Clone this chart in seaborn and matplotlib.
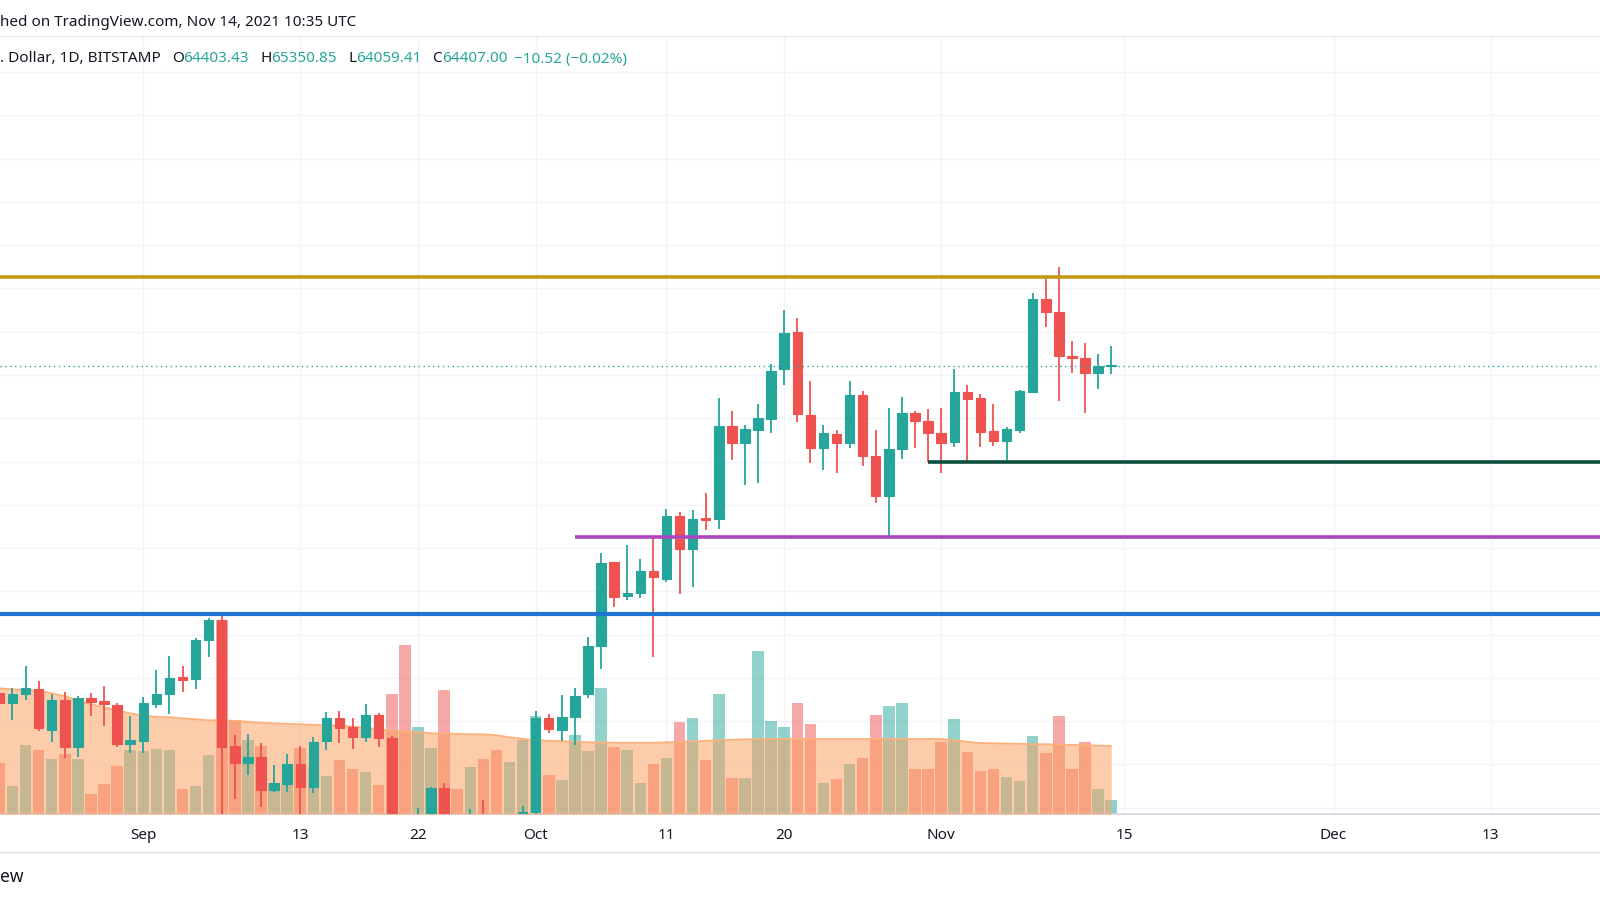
import numpy as np
import pandas as pd
import matplotlib
matplotlib.use("Agg")
import matplotlib.pyplot as plt
from matplotlib.lines import Line2D
import seaborn as sns

# BTC/USD daily, Bitstamp
start = "2021-08-21"
opens = [49296, 48833, 49249, 49481, 47585, 48972, 46799, 49064, 48926, 48741, 46937,
         47076, 48787, 49249, 50036, 49943, 51746, 52671, 46845, 46059, 46336, 44810,
         45088, 46013, 44949, 47076, 48140, 47724, 47261, 48278, 47215, 43000, 40700,
         43600, 44900, 42800, 42700, 43200, 42200, 41050, 41550,
         43790, 48140, 47585, 48186, 49249, 51469, 55353, 53781, 53920, 54937, 54567,
         57480, 55954, 57388, 57341, 61642, 60856, 61457, 61965, 64277, 65988, 62150,
         60624, 61272, 60856, 63075, 60255, 58405, 60578, 62243, 61873,
         61318, 60902, 63214, 62936, 61411, 60948, 61457, 63214, 67514, 66913, 64879,
         64786, 64092, 64403.43]
highs = [49750, 49527, 50544, 49851, 49249, 49342, 49157, 49296, 49619, 48833, 48232,
         49111, 50359, 51007, 50544, 51839, 52764, 52902, 47354, 47400, 46984, 45966,
         46475, 46845, 47261, 48417, 48463, 48140, 48787, 48371, 47307, 43600, 43980,
         44963, 45148, 42950, 43930, 44350, 42800, 42600, 44090,
         48463, 48325, 49203, 49527, 51885, 55769, 55353, 56139, 55492, 56509, 57804,
         57665, 57758, 58544, 62936, 62335, 61688, 62659, 64509, 67006, 66636, 63723,
         61688, 61457, 63723, 63260, 61457, 62474, 62983, 62335, 62428,
         62474, 64277, 63538, 63121, 62659, 61595, 63306, 67792, 68532, 68990, 65572,
         65480, 64971, 65350.85]
lows = [48450, 48047, 48972, 47539, 47030, 46290, 46336, 48232, 47770, 46799, 46521,
        46521, 48602, 48325, 49342, 49481, 50960, 42830, 44394, 45504, 44024, 44718,
        44718, 43423, 44672, 46660, 46984, 46706, 47030, 46799, 42500, 39600, 40500,
        43100, 40700, 41700, 40800, 42100, 40900, 40800, 41400,
        43300, 47446, 47076, 46891, 49064, 50405, 53272, 53596, 53688, 50960, 54428,
        53873, 54197, 56833, 56879, 60070, 58914, 59006, 61318, 63538, 61827, 59931,
        59607, 59468, 60624, 59792, 58081, 56463, 60116, 60624, 59977,
        59468, 60671, 60023, 60671, 60717, 60070, 61318, 63214, 66220, 62798, 64092,
        62243, 63353, 64059.41]
closes = [48833, 49249, 49527, 47677, 48972, 46799, 49064, 48880, 48787, 46937, 47122,
          48833, 49249, 49989, 49897, 51746, 52671, 46799, 46059, 46336, 44810, 45134,
          46013, 44949, 47030, 48140, 47677, 47261, 48278, 47215, 43000, 40700, 43600,
          44903, 42800, 42700, 43200, 42200, 41050, 41550, 43790,
          48140, 47631, 48186, 49157, 51469, 55307, 53735, 53920, 54937, 54660, 57480,
          55954, 57341, 57295, 61642, 60856, 61503, 62012, 64185, 65942, 62197, 60624,
          61318, 60856, 63075, 60255, 58405, 60578, 62243, 61873, 61318,
          60856, 63214, 62890, 61364, 60948, 61503, 63260, 67514, 66913, 64879, 64786,
          64092, 64417.52, 64407.00]
# volume (BTC) and its 20-day average
volumes = [2565, 1415, 3450, 3200, 2750, 3000, 2785, 1035, 1535, 2415, 3235,
           3165, 3250, 3200, 1250, 1415, 2950, 9700, 4725, 3735, 3425, 1550,
           1485, 3335, 2400, 1900, 2700, 2250, 2115, 1450, 6035, 8485, 4350,
           3335, 6200, 1285, 2365, 2785, 3235, 2615, 3735,
           4925, 1985, 1700, 3950, 3165, 6335, 3365, 3200, 1550, 2535, 2835,
           4615, 4835, 2715, 6000, 1835, 1835, 8185, 4650, 4365, 5565, 4500,
           1550, 1750, 2500, 2835, 4950, 5400, 5550, 2250, 2250,
           3615, 4750, 3100, 2185, 2285, 1850, 1650, 3900, 3065, 4900, 2285,
           3600, 1250, 700]
vol_ma = [6300, 6250, 6225, 6175, 6050, 5900, 5700, 5500, 5350, 5200, 5050,
          4925, 4875, 4850, 4800, 4750, 4700, 4700, 4675, 4625, 4575, 4550,
          4525, 4500, 4475, 4450, 4440, 4375, 4325, 4250, 4175, 4125, 4100,
          4050, 4025, 4025, 4000, 4000, 3950, 3850, 3775,
          3700, 3675, 3650, 3625, 3600, 3600, 3575, 3575, 3575, 3575, 3600,
          3625, 3650, 3675, 3700, 3725, 3750, 3750, 3765, 3765, 3765, 3765,
          3765, 3765, 3765, 3765, 3765, 3765, 3765, 3765, 3765,
          3765, 3700, 3625, 3565, 3550, 3535, 3525, 3510, 3500, 3490, 3470,
          3450, 3435, 3415]

tick_dates = ["2021-09-01", "2021-09-13", "2021-09-22", "2021-10-01", "2021-10-11",
              "2021-10-20", "2021-11-01", "2021-11-15", "2021-12-01", "2021-12-13"]
tick_labels = ["Sep", "13", "22", "Oct", "11", "20", "Nov", "15", "Dec", "13"]

level_gold = 68545
level_blue = 52935
level_purple = 56523
purple_from = "2021-10-04"
level_green = 60000
green_from = "2021-10-31"
grid_prices = np.arange(44000, 80000, 2000)

UP, DOWN, DARK = "#26a69a", "#ef5350", "#131722"

sns.set_style("white")
plt.rcParams["font.family"] = ["Noto Sans", "DejaVu Sans"]

W, H = 1600, 900
fig = plt.figure(figsize=(16, 9), dpi=100)
pane_top, pane_bot = 36, 814.3
ax_v = fig.add_axes([0, 1 - pane_bot / H, 1, (pane_bot - pane_top) / H])
ax_p = ax_v.twinx()

t0 = pd.Timestamp(start)
dates = pd.date_range(start, periods=len(closes), freq="D")
day = (dates - t0).days.values
o, h, l, c = map(np.asarray, (opens, highs, lows, closes))
up = c >= o
cols = np.where(up, UP, DOWN)

px_day, first_px = 13.08, -0.6
xlim = ((0 - first_px) / px_day, (W - first_px) / px_day)
plim = (43687, 79675)
vlim = (0, (pane_bot - pane_top) * 50)

# volume + average
df = pd.DataFrame({"day": day, "vol": volumes, "dir": np.where(up, "up", "down")})
sns.barplot(data=df, x="day", y="vol", hue="dir", palette={"up": UP, "down": DOWN},
            native_scale=True, dodge=False, width=0.88, saturation=1, alpha=0.5,
            linewidth=0, errorbar=None, legend=False, ax=ax_v, zorder=2)
ax_v.fill_between(day, vol_ma, color="#fc9d59", alpha=0.5, lw=0, zorder=3)
sns.lineplot(x=day, y=vol_ma, ax=ax_v, color="#fdb07a", lw=1.3, zorder=3.5)

# candles
ax_p.vlines(day, l, h, colors=cols, lw=1.3, zorder=3)
min_h = (plim[1] - plim[0]) / (pane_bot - pane_top)
body_lo = np.minimum(o, c)
body_h = np.maximum(np.abs(c - o), min_h)
ax_p.bar(day, body_h, bottom=body_lo, width=0.72, color=cols, edgecolor=cols,
         lw=0.8, zorder=4)

# drawn levels
ax_p.axhline(level_gold, color="#c49b14", lw=2.6, zorder=5)
ax_p.axhline(level_blue, color="#1f74d4", lw=3, zorder=5)
ax_p.hlines(level_purple, (pd.Timestamp(purple_from) - t0).days, xlim[1],
            color="#ab47bc", lw=2.6, zorder=5)
ax_p.hlines(level_green, (pd.Timestamp(green_from) - t0).days, xlim[1],
            color="#0d4d3d", lw=2.6, zorder=5)
ax_p.axhline(c[-1], color=UP, lw=1, ls=(0, (1, 2.5)), zorder=5)

ax_v.set_xlim(*xlim)
ax_v.set_ylim(*vlim)
ax_p.set_ylim(*plim)

tick_days = [(pd.Timestamp(d) - t0).days for d in tick_dates]
ax_v.set_xticks(tick_days)
ax_v.set_xticklabels(tick_labels)
vt = (grid_prices - plim[0]) / (plim[1] - plim[0]) * vlim[1]
ax_v.set_yticks(vt)
ax_v.set_yticklabels([])
ax_v.grid(True, color="#f0f3fa", lw=1)
ax_v.set_axisbelow(True)
ax_v.tick_params(axis="both", length=0)
ax_v.tick_params(axis="x", pad=10, labelsize=11, labelcolor=DARK)
ax_v.set_xlabel("")
ax_v.set_ylabel("")
ax_p.set_yticks([])
ax_p.set_ylabel("")
for s in ("left", "right"):
    ax_v.spines[s].set_visible(False)
ax_v.spines["top"].set_color("#e0e3eb")
ax_v.spines["bottom"].set_color("#d1d4dc")
ax_v.spines["bottom"].set_linewidth(1.2)
for s in ax_p.spines.values():
    s.set_visible(False)

fig.add_artist(Line2D([0, 1], [1 - 852 / H] * 2, color="#e0e3eb", lw=1,
                      transform=fig.transFigure))

# header texts
fig.text(0, 1 - 22.7 / H, "hed on TradingView.com, Nov 14, 2021 10:35 UTC",
         fontsize=11, color=DARK, va="center", ha="left")
chg = c[-1] - c[-2]
pct = chg / c[-2] * 100
parts = [(". Dollar, 1D, BITSTAMP", DARK, 11),
         ("O", DARK, 0), (f"{o[-1]:.2f}", UP, 11),
         ("H", DARK, 0), (f"{h[-1]:.2f}", UP, 11),
         ("L", DARK, 0), (f"{l[-1]:.2f}", UP, 11),
         ("C", DARK, 0), (f"{c[-1]:.2f}", UP, 6),
         (f"{chg:+.2f} ({pct:+.2f}%)".replace("-", "\u2212"), UP, 0)]
r = fig.canvas.get_renderer()
x = 0
for txt, col, gap in parts:
    t = fig.text(x / W, 1 - 59 / H, txt, fontsize=11, color=col, va="center", ha="left")
    x = t.get_window_extent(r).x1 + gap

fig.text(0, 1 - 877 / H, "ew", fontsize=12.5, color=DARK, va="center", ha="left")

fig.savefig("out.png", dpi=100)
